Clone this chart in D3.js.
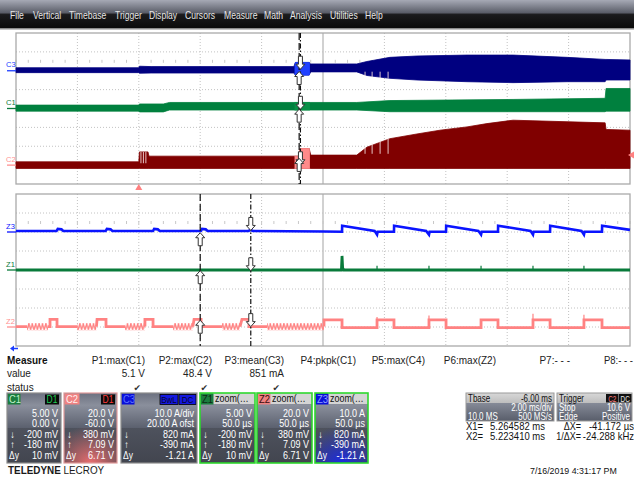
<!DOCTYPE html>
<html>
<head>
<meta charset="utf-8">
<script src="https://d3js.org/d3.v7.min.js"></script>
<style>
  body { margin: 0; background: #fff; }
  svg { display: block; font-family: "Liberation Sans", Arial, sans-serif; }
</style>
</head>
<body>
<svg id="scope" width="634" height="478"></svg>
<script>
// ---- data ----
const menuItems = ["File", "Vertical", "Timebase", "Trigger", "Display", "Cursors", "Measure", "Math", "Analysis", "Utilities", "Help"];
const menuX = [10, 33, 69, 115, 149, 185, 224, 264, 290, 330, 365];

// timebase: 2 ms/div, trigger 2 div from left; zoom 50 us/div
const upperMs = [-4, 16];
const zoomUs = [0, 500];
const zoomStartMs = 5.0734;
const cursorX1 = 5.264582;
const cursorX2 = 5.223410;
const trigLevelC2 = 10.6;

// per channel: volts/div and offset
const chanNames = ["C1", "C2", "C3"];
const perDiv = [5, 20, 10];
const offsets = [0, -60, 20];

// upper envelopes [ms, min, max]
const c3Env = [[-4,-1.0,1.6],[0,-1.0,1.6],[0.02,-1.3,2.4],[0.4,-1.2,2.2],[5.05,-1.2,2.2],[5.1,-2.3,4.4],[5.55,-2.3,4.4],[5.6,-0.6,3.6],[7.1,-0.6,3.6],[7.43,-2.5,4.9],[8.18,-4.0,7.1],[9.06,-4.9,7.8],[10.69,-5.8,8.3],[12.19,-6.3,8.3],[13.95,-5.8,7.1],[15.19,-5.8,6.0],[15.22,-4.9,6.0],[16,-4.9,5.7]];
const c1Env = [[-4,-0.7,0.9],[0,-0.7,0.9],[0.02,-0.9,1.2],[0.8,-0.9,1.2],[1.0,-0.4,1.6],[7.1,-0.4,1.6],[8.18,-0.85,2.1],[12.19,-0.85,2.4],[15.19,-0.85,2.7],[15.22,-0.7,5.3],[16,-0.7,5.3]];
const c2Env = [[-4,-3.5,3.5],[0,-3.5,3.5],[0.02,-3.5,14],[0.3,-3.5,14],[0.33,-3.5,9.5],[5.2,-3.5,9.5],[5.25,-3.5,17.6],[5.55,-3.5,17.6],[5.6,-3.5,10.6],[7.1,-3.5,10.6],[7.43,-3.5,19],[8.18,-3.5,28],[9.06,-3.5,33],[9.81,-3.5,37],[10.69,-3.5,40.5],[11.34,-3.5,44],[12.19,-3.5,47.6],[12.84,-3.5,47],[15.19,-3.5,44.8],[15.22,-3.5,37.8],[16,-3.5,37]];
// light streaks inside the fills [ms, from, to]
const c2Gaps = [[0.07,2,14],[0.15,2,14],[0.23,2,14],[7.37,12,19],[7.6,12,23],[7.86,12,26],[8.12,12,28]];
const c3Gaps = [[7.37,-0.5,-2.8],[7.6,-0.5,-3.4],[7.86,-0.5,-3.9],[8.12,-0.5,-4.1]];

// zoom traces [us, value]
const z3Trace = [[0,0.5],[33,0.5],[34,1.6],[37,1.4],[38.5,0.5],[73,0.5],[74,1.6],[77,1.4],[78.5,0.5],[111.5,0.5],[112.5,1.6],[115.5,1.4],[117,0.5],[150.5,0.5],[151.5,1.6],[154.5,1.4],[156,0.5],[189.5,0.5],[190.5,1.2],[193,0.5],[250,0.3],[265.5,0.15],[265.6,3.3],[292,0.6],[294,-1.4],[294.5,0.15],[307.8,0.15],[307.9,3.3],[334,0.6],[336.3,-1.4],[336.8,0.15],[350.2,0.15],[350.3,3.3],[376.5,0.6],[378.7,-1.4],[379.2,0.15],[392.5,0.15],[392.6,3.3],[419,0.6],[421,-1.4],[421.5,0.15],[434.9,0.15],[435,3.3],[460.5,0.6],[462.5,-1.4],[463,0.15],[477.2,0.15],[477.3,3.3],[500,1.1]];
const z1Trace = [[0,0],[265,0],[265.5,3.7],[266,0.5],[267,0],[500,0]];
const z1Spikes = [[294,1.1],[336.3,1.1],[378.7,1.1],[421,1.1],[462.5,1.1]];
const z2Trace = [[0,0.4],[9,0.4],[9,null],
  [26,0.4],[27.7,0.4],[27.7,8],[33.4,8],[33.4,0.4],[49.7,0.4],[49.7,null],
  [65.5,0.4],[66,8],[73.3,8],[73.3,0.4],[88.8,0.4],[88.8,null],
  [105,0.4],[105,8],[111.6,8],[111.6,0.4],[127.9,0.4],[127.9,null],
  [144,0.4],[145,8],[150.7,8],[150.7,0.4],[167.8,0.4],[167.8,null],
  [182.4,0.4],[184,8],[189.7,8],[189.7,0.4],[204.4,0.4],[204.4,null],
  [250.8,0.4],[250.8,7.4],[265.5,7.4],[265.5,-0.7],[294,-0.7],[294,7.4],[307.8,7.4],[307.8,-0.7],
  [336.3,-0.7],[336.3,7.4],[350.2,7.4],[350.2,-0.7],[378.7,-0.7],[378.7,7.4],[392.5,7.4],[392.5,-0.7],
  [421,-0.7],[421,7.4],[434.9,7.4],[434.9,-0.7],[462.5,-0.7],[462.5,7.4],[477.2,7.4],[477.2,-0.7],[500,-0.7]];
const z2Zig = [[9,26],[49.7,65.5],[88.8,105],[127.9,144],[167.8,182.4],[204.4,250.8]];
const z2ZigLevels = [-3.7, 4.2];
const z2Spikes = [[294,7.4,10.5],[336.3,7.4,12],[421,7.4,14],[462.5,7.4,13]];

// cursor readouts (down arrow = X1, up arrow = X2)
const readDown = [-0.2, 0.38, 0.82];
const readUp = [-0.18, 7.09, -0.39];

// measurements
const measNames = ["P1:max(C1)", "P2:max(C2)", "P3:mean(C3)", "P4:pkpk(C1)", "P5:max(C4)", "P6:max(Z2)", "P7:- - -", "P8:- - -"];
const measValues = ["5.1 V", "48.4 V", "851 mA", "", "", "", "", ""];
const measOk = [true, true, true, false, false, false, false, false];

// descriptor boxes
const boxLabels = ["C1", "C2", "C3", "Z1", "Z2", "Z3"];
const boxScale = ["5.00 V", "20.0 V", "10.0 A/div", "5.00 V", "20.0 V", "10.0 A"];
const boxOffset = ["0.00 V", "-60.0 V", "20.00 A ofst", "50.0 µs", "50.0 µs", "50.0 µs"];
const boxDown = ["-200 mV", "380 mV", "820 mA", "-200 mV", "380 mV", "820 mA"];
const boxUp = ["-180 mV", "7.09 V", "-390 mA", "-180 mV", "7.09 V", "-390 mA"];
const boxDelta = ["10 mV", "6.71 V", "-1.21 A", "10 mV", "6.71 V", "-1.21 A"];

const tbaseRows = [["Tbase", "-6.00 ms"], ["", "2.00 ms/div"], ["10.0 MS", "500 MS/s"]];
const trigRows = [["Trigger", ""], ["Stop", "10.6 V"], ["Edge", "Positive"]];
const cursorRows = [["X1=", "5.264582 ms", "ΔX=", "-41.172 µs"], ["X2=", "5.223410 ms", "1/ΔX=", "-24.288 kHz"]];
const stamp = "7/16/2019 4:31:17 PM";

// ---- layout ----
const UP = {x0: 16, x1: 630, y0: 33, y1: 184};
const LO = {x0: 16, x1: 630, y0: 194, y1: 346};
const colC = {C1: "#00803e", C2: "#800000", C3: "#000080"};
const colZ = {Z1: "#087a3a", Z2: "#ff8282", Z3: "#0a14ff"};
const colHi = {C1: "#0a9048", C2: "#ff8a8a", C3: "#2040ff"};
const lblCol = {C1: "#0a7a3c", C2: "#ff9090", C3: "#2040ff"};

const svg = d3.select("#scope");
const defs = svg.append("defs");

function grad(id, stops, vertical = true) {
  const gr = defs.append("linearGradient").attr("id", id)
    .attr("x1", 0).attr("y1", 0).attr("x2", vertical ? 0 : 1).attr("y2", vertical ? 1 : 0);
  stops.forEach(s => gr.append("stop").attr("offset", s[0]).attr("stop-color", s[1]).attr("stop-opacity", s[2] == null ? 1 : s[2]));
}
grad("menuGrad", [[0, "#a6a9b5"], [0.45, "#5b5e69"], [0.52, "#1b1b1d"], [1, "#0b0b0b"]]);
grad("boxTop", [[0, "#6c7180"], [0.35, "#8a8f9c"], [1, "#5b606e"]]);
grad("boxBot", [[0, "#4e525d"], [1, "#42454f"]]);
grad("tbTop", [[0, "#d8d8d8"], [1, "#bdbdbd"]]);
grad("tbBody", [[0, "#858a97"], [1, "#585d6a"]]);
function radial(id, color) {
  const gr = defs.append("radialGradient").attr("id", id).attr("cx", 0.5).attr("cy", 1).attr("r", 0.8);
  gr.append("stop").attr("offset", 0).attr("stop-color", color).attr("stop-opacity", 0.95);
  gr.append("stop").attr("offset", 1).attr("stop-color", color).attr("stop-opacity", 0);
}
radial("glowRed", "#f07070");
radial("glowBlue", "#1a2ae8");

function txt(g, x, y, s, o = {}) {
  const t = g.append("text")
    .attr("transform", `translate(${x},${y}) scale(${o.sx || 1},1)`)
    .attr("font-size", o.size || 10)
    .attr("fill", o.fill || "#000")
    .attr("text-anchor", o.anchor || "start")
    .text(s);
  if (o.weight) t.attr("font-weight", o.weight);
  if (o.family) t.attr("font-family", o.family);
  return t;
}

// scales
const xUp = d3.scaleLinear().domain(upperMs).range([UP.x0, UP.x1]);
const xLo = d3.scaleLinear().domain(zoomUs).range([LO.x0, LO.x1]);
function yScale(i, box) {
  const c = -offsets[i];
  return d3.scaleLinear().domain([c - 4 * perDiv[i], c + 4 * perDiv[i]]).range([box.y1, box.y0]);
}
const yUp = chanNames.map((n, i) => yScale(i, UP));
const yLo = chanNames.map((n, i) => yScale(i, LO));

// ---- menu bar ----
svg.append("rect").attr("x", 0).attr("y", 0).attr("width", 634).attr("height", 28).attr("fill", "url(#menuGrad)");
svg.append("rect").attr("x", 0).attr("y", 28).attr("width", 634).attr("height", 1.5).attr("fill", "#8c8c8c");
const menu = svg.append("g");
menuItems.forEach((m, i) => txt(menu, menuX[i], 18.5, m, {size: 10, sx: 0.86, fill: "#e6e6e6"}));

// ---- grids ----
function drawGrid(box, x, ticks, y, yTicks) {
  const g = svg.append("g");
  ticks.forEach((t, k) => {
    const xx = x(t);
    g.append("line").attr("x1", xx).attr("x2", xx).attr("y1", box.y0).attr("y2", box.y1)
      .attr("stroke", k === 4 ? "#c6c6c6" : "#c2c2c2")
      .attr("stroke-width", k === 4 ? 1.6 : 1)
      .attr("stroke-dasharray", k === 4 ? null : "1,2");
  });
  yTicks.forEach(v => {
    const yy = y(v);
    g.append("line").attr("x1", box.x0).attr("x2", box.x1).attr("y1", yy).attr("y2", yy)
      .attr("stroke", "#c2c2c2").attr("stroke-dasharray", "1,2");
  });
  // minor tick row
  const ty = y(yTicks[yTicks.length - 1]) + (y(yTicks[yTicks.length - 2]) - y(yTicks[yTicks.length - 1])) * 0.5;
  const dom = x.domain();
  d3.range(dom[0], dom[1] + 1e-9, (dom[1] - dom[0]) / 50).forEach(t => {
    g.append("line").attr("x1", x(t)).attr("x2", x(t)).attr("y1", ty - 1.5).attr("y2", ty + 1.5)
      .attr("stroke", "#c8c8c8");
  });
  g.append("rect").attr("x", box.x0).attr("y", box.y0).attr("width", box.x1 - box.x0).attr("height", box.y1 - box.y0)
    .attr("fill", "none").attr("stroke", "#aaaaaa").attr("stroke-width", 1.3);
}
drawGrid(UP, xUp, d3.range(-2, 16, 2), yUp[0], d3.range(-15, 20, 5));
drawGrid(LO, xLo, d3.range(50, 500, 50), yLo[0], d3.range(-15, 20, 5));

// ---- upper traces ----
const envs = [c1Env, c2Env, c3Env];
const order = [2, 0, 1];
defs.append("clipPath").attr("id", "zoomWin").append("rect")
  .attr("x", xUp(zoomStartMs)).attr("y", UP.y0)
  .attr("width", xUp(zoomStartMs + 0.5) - xUp(zoomStartMs)).attr("height", UP.y1 - UP.y0);
const upG = svg.append("g");
order.forEach(i => {
  const n = chanNames[i];
  const area = d3.area().x(d => xUp(d[0])).y0(d => yUp[i](d[1])).y1(d => yUp[i](d[2]));
  upG.append("path").attr("d", area(envs[i])).attr("fill", colC[n]).attr("stroke", colC[n]).attr("stroke-width", 0.8);
  upG.append("path").attr("d", area(envs[i])).attr("fill", colHi[n]).attr("stroke", colHi[n]).attr("stroke-width", 0.8)
    .attr("clip-path", "url(#zoomWin)");
});
[[c2Gaps, 1], [c3Gaps, 2]].forEach(([gaps, i]) => {
  upG.selectAll(null).data(gaps).join("line")
    .attr("x1", d => xUp(d[0])).attr("x2", d => xUp(d[0]))
    .attr("y1", d => yUp[i](d[1])).attr("y2", d => yUp[i](d[2]))
    .attr("stroke", "#f2dada").attr("stroke-width", 0.9);
});

// channel labels at left
chanNames.forEach((n, i) => {
  const y0 = yUp[i](0);
  svg.append("line").attr("x1", 7).attr("x2", 16).attr("y1", y0).attr("y2", y0).attr("stroke", lblCol[n]).attr("stroke-width", 1.3);
  txt(svg, 6, y0 - 3.5, n, {size: 8, fill: lblCol[n], sx: 0.95});
});

// ---- zoom traces ----
const loG = svg.append("g");
const zoomPat = defs.append("pattern").attr("id", "zig").attr("patternUnits", "userSpaceOnUse")
  .attr("width", 3.4).attr("height", yLo[1](z2ZigLevels[0]) - yLo[1](z2ZigLevels[1]))
  .attr("y", yLo[1](z2ZigLevels[1]));
const zh = yLo[1](z2ZigLevels[0]) - yLo[1](z2ZigLevels[1]);
zoomPat.append("path").attr("d", `M0,${zh - 0.5}L1.7,0.5L3.4,${zh - 0.5}`).attr("fill", "none")
  .attr("stroke", colZ.Z2).attr("stroke-width", 1.3);
loG.selectAll(null).data(z2Zig).join("rect")
  .attr("x", d => xLo(d[0])).attr("width", d => xLo(d[1]) - xLo(d[0]))
  .attr("y", yLo[1](z2ZigLevels[1])).attr("height", zh).attr("fill", "url(#zig)");
const zLine = i => d3.line().defined(d => d[1] != null).x(d => xLo(d[0])).y(d => yLo[i](d[1]));
loG.append("path").attr("d", zLine(1)(z2Trace)).attr("fill", "none").attr("stroke", colZ.Z2).attr("stroke-width", 2.8);
loG.selectAll(null).data(z2Spikes).join("line")
  .attr("x1", d => xLo(d[0])).attr("x2", d => xLo(d[0]))
  .attr("y1", d => yLo[1](d[1])).attr("y2", d => yLo[1](d[2])).attr("stroke", colZ.Z2).attr("stroke-width", 1.2);
loG.append("path").attr("d", zLine(0)(z1Trace)).attr("fill", "none").attr("stroke", colZ.Z1).attr("stroke-width", 2.8);
loG.selectAll(null).data(z1Spikes).join("line")
  .attr("x1", d => xLo(d[0])).attr("x2", d => xLo(d[0]))
  .attr("y1", yLo[0](0)).attr("y2", d => yLo[0](d[1])).attr("stroke", colZ.Z1).attr("stroke-width", 1.2);
loG.append("path").attr("d", zLine(2)(z3Trace)).attr("fill", "none").attr("stroke", colZ.Z3).attr("stroke-width", 2.6);

["Z1", "Z2", "Z3"].forEach((n, i) => {
  const y0 = yLo[i](0);
  const c = n === "Z2" ? "#ff9090" : colZ[n];
  svg.append("line").attr("x1", 7).attr("x2", 16).attr("y1", y0).attr("y2", y0).attr("stroke", c).attr("stroke-width", 1.3);
  txt(svg, 6, y0 - 3.5, n, {size: 8, fill: c, sx: 0.95});
});

// ---- cursors ----
function cursorLine(x, box, dash) {
  svg.append("line").attr("x1", x).attr("x2", x).attr("y1", box.y0).attr("y2", box.y1)
    .attr("stroke", "#111").attr("stroke-width", 1.2).attr("stroke-dasharray", dash);
}
const dashX2 = "7,3", dashX1 = "5,2,1.5,2";
cursorLine(xUp(cursorX2), UP, dashX2);
cursorLine(xUp(cursorX1), UP, dashX1);
const xLoX2 = xLo((cursorX2 - zoomStartMs) * 1000), xLoX1 = xLo((cursorX1 - zoomStartMs) * 1000);
cursorLine(xLoX2, LO, dashX2);
cursorLine(xLoX1, LO, dashX1);

function arrow(x, y, dir) {
  // dir -1: pointing up (body below), +1: pointing down (body above)
  const s = -dir;
  const p = `M${x},${y}L${x + 4.5},${y + 5 * s}L${x + 2},${y + 5 * s}L${x + 2},${y + 13 * s}L${x - 2},${y + 13 * s}L${x - 2},${y + 5 * s}L${x - 4.5},${y + 5 * s}Z`;
  svg.append("path").attr("d", p).attr("fill", "#fff").attr("stroke", "#333").attr("stroke-width", 1);
}
chanNames.forEach((n, i) => {
  arrow(xUp(cursorX1), yUp[i](readDown[i]), 1);
  arrow(xUp(cursorX2), yUp[i](readUp[i]), -1);
  arrow(xLoX1, yLo[i](readDown[i]), 1);
  arrow(xLoX2, yLo[i](readUp[i]), -1);
});

// trigger markers
const tx = xUp(0);
svg.append("path").attr("d", `M${tx - 3.5},190L${tx + 3.5},190L${tx},184Z`).attr("fill", "#ff8080");
const ty = yUp[1](trigLevelC2);
svg.append("path").attr("d", `M634,${ty - 3.5}L634,${ty + 3.5}L628,${ty}Z`).attr("fill", "#ff8080");
svg.append("path").attr("d", "M10,348.5L14,345.5L14,347.7L18,347.7L18,349.3L14,349.3L14,351.5Z").attr("fill", "#1a3cff");

// ---- measurement table ----
const meas = svg.append("g");
txt(meas, 7, 364, "Measure", {size: 10, weight: "bold", fill: "#111"});
txt(meas, 7, 377, "value", {size: 10, fill: "#222"});
txt(meas, 7, 391, "status", {size: 10, fill: "#222"});
const colRight = [145, 212, 284, 356, 425, 496, 570, 633];
measNames.forEach((m, i) => {
  txt(meas, colRight[i], 364, m, {size: 10, anchor: "end", fill: "#222", sx: i === 7 ? 0.95 : 1});
  if (measValues[i]) txt(meas, colRight[i], 377, measValues[i], {size: 10, anchor: "end", fill: "#222"});
  if (measOk[i]) txt(meas, colRight[i] - 4, 391, "✔", {size: 9, anchor: "end", fill: "#333", family: "DejaVu Sans"});
});

// ---- channel descriptor boxes ----
const boxX = [7, 64, 121, 200, 257, 315];
const boxW = [54, 53, 76, 55, 55, 53];
const tagFill = {C1: "#1b7c3e", C2: "#f08282", C3: "#0a10d8", Z1: "#1b7c3e", Z2: "#f08282", Z3: "#0a10d8"};
const tagText = {C1: "#bff0c8", C2: "#fff0f0", C3: "#5a70ff", Z1: "#0d2a16", Z2: "#3a0c0c", Z3: "#8fa0ff"};
boxLabels.forEach((lab, i) => {
  const x = boxX[i], w = boxW[i], y = 393;
  const g = svg.append("g");
  const isZ = lab[0] === "Z";
  g.append("rect").attr("x", x).attr("y", y).attr("width", w).attr("height", 35).attr("fill", "url(#boxTop)");
  g.append("rect").attr("x", x).attr("y", y + 35).attr("width", w).attr("height", 35).attr("fill", "url(#boxBot)");
  if (lab === "C2") g.append("rect").attr("x", x).attr("y", y + 24).attr("width", w).attr("height", 46).attr("fill", "url(#glowRed)");
  if (lab === "Z3") g.append("rect").attr("x", x).attr("y", y + 24).attr("width", w).attr("height", 46).attr("fill", "url(#glowBlue)");
  if (isZ) {
    g.append("rect").attr("x", x + 13).attr("y", y).attr("width", w - 13).attr("height", 11).attr("fill", "#d4d4d4");
    txt(g, x + 15, y + 9, "zoom(…", {size: 10.5, sx: 0.85, fill: "#111"});
  }
  const tw = lab === "C2" ? 15 : 13;
  g.append("rect").attr("x", x + 0.5).attr("y", y + 0.5).attr("width", tw).attr("height", 11).attr("fill", tagFill[lab]);
  txt(g, x + 2, y + 9.5, lab, {size: 10.5, sx: 0.9, fill: tagText[lab]});
  if (lab === "C1" || lab === "C2") {
    g.append("rect").attr("x", x + w - 16).attr("y", y + 1.5).attr("width", 14).attr("height", 10).attr("fill", "#0a0a0a");
    txt(g, x + w - 9, y + 9.5, "D1", {size: 10, sx: 0.85, anchor: "middle", fill: lab === "C1" ? "#1fcc55" : "#ff3a3a"});
  }
  if (lab === "C3") {
    [["BwL", x + 39, 18], ["DC", x + 58, 17]].forEach(([s, bx, bw]) => {
      g.append("rect").attr("x", bx).attr("y", y + 1.5).attr("width", bw).attr("height", 10).attr("fill", "#1418e0").attr("stroke", "#000").attr("stroke-width", 0.8);
      txt(g, bx + bw / 2, y + 9.5, s, {size: 9.5, sx: 0.85, anchor: "middle", fill: "#05052a"});
    });
  }
  const r = x + w - 3;
  const o = {size: 11, sx: 0.82, anchor: "end", fill: "#fff"};
  txt(g, r, y + 24, boxScale[i], o);
  txt(g, r, y + 34, boxOffset[i], o);
  txt(g, r, y + 45, boxDown[i], o);
  txt(g, r, y + 55, boxUp[i], o);
  txt(g, r, y + 66, boxDelta[i], o);
  txt(g, x + 3, y + 45, "↓", {size: 10, fill: "#fff"});
  txt(g, x + 3, y + 55, "↑", {size: 10, fill: "#fff"});
  txt(g, x + 2, y + 66, "Δy", {size: 10, sx: 0.85, fill: "#fff"});
  g.append("rect").attr("x", x).attr("y", y).attr("width", w).attr("height", 70).attr("fill", "none")
    .attr("stroke", isZ ? "#2ed82e" : (lab === "C2" ? "#e09a9a" : "#8c8c8c")).attr("stroke-width", isZ ? 1.6 : 1.2);
});

// ---- timebase / trigger boxes ----
function infoBox(x, w, rows) {
  const g = svg.append("g");
  const y = 393;
  g.append("rect").attr("x", x).attr("y", y).attr("width", w).attr("height", 10).attr("fill", "url(#tbTop)");
  g.append("rect").attr("x", x).attr("y", y + 10).attr("width", w).attr("height", 18).attr("fill", "url(#tbBody)");
  rows.forEach((r, k) => {
    const c = k === 0 ? "#111" : "#fff";
    const by = y + 8.6 + k * 9.3;
    if (r[0]) txt(g, x + 2, by, r[0], {size: 10, sx: 0.8, fill: c});
    if (r[1]) txt(g, x + w - 2, by, r[1], {size: 10, sx: 0.8, anchor: "end", fill: c});
  });
  g.append("rect").attr("x", x).attr("y", y).attr("width", w).attr("height", 28).attr("fill", "none").attr("stroke", "#9a9a9a");
  return g;
}
infoBox(466, 88, tbaseRows);
const trg = infoBox(557, 75, trigRows);
[["C2", 606, "#ff7a7a"], ["DC", 619, "#e8e8e8"]].forEach(([s, bx, c]) => {
  trg.append("rect").attr("x", bx).attr("y", 394).attr("width", 12.5).attr("height", 8.5).attr("fill", "#111");
  txt(trg, bx + 6.2, 401.5, s, {size: 8.5, sx: 0.75, anchor: "middle", fill: c});
});

cursorRows.forEach((r, k) => {
  const by = 429.5 + k * 10;
  txt(svg, 466, by, r[0], {size: 10, sx: 0.95, fill: "#111"});
  txt(svg, 545, by, r[1], {size: 10, sx: 0.95, anchor: "end", fill: "#111"});
  txt(svg, 581, by, r[2], {size: 10, sx: 0.9, anchor: "end", fill: "#111"});
  txt(svg, 634, by, r[3], {size: 10, sx: 0.95, anchor: "end", fill: "#111"});
});

txt(svg, 530, 474, stamp, {size: 9.5, sx: 0.93, fill: "#111"});

// logo
const logo = txt(svg, 8, 474, "", {size: 11, sx: 0.9, fill: "#1a1a1a"});
logo.append("tspan").attr("font-weight", "bold").text("TELEDYNE ");
logo.append("tspan").text("LECROY");
</script>
</body>
</html>
